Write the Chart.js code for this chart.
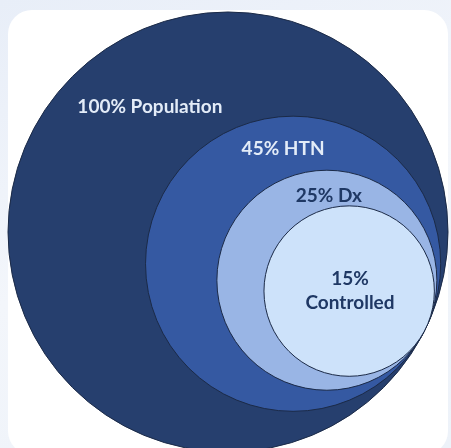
<!DOCTYPE html>
<html>
<head>
<meta charset="utf-8">
<script src="https://cdn.jsdelivr.net/npm/chart.js@4.4.1/dist/chart.umd.min.js"></script>
<style>
  html, body { margin: 0; padding: 0; }
  body {
    width: 451px; height: 448px; overflow: hidden; position: relative;
    background: linear-gradient(160deg, #e8eef8 0%, #f3f6fb 50%, #edf2f9 100%);
  }
  .card {
    position: absolute; left: 8px; top: 10px; width: 440px; height: 445px;
    background: #ffffff; border-radius: 24px;
  }
  #venn { position: absolute; left: 0; top: 0; }
</style>
</head>
<body>
<div class="card"></div>
<canvas id="venn" width="451" height="448"></canvas>
<script>
// groups and their share of the population (circle area is proportional)
var groups = ['Population', 'HTN', 'Dx', 'Controlled'];
var percents = [100, 45, 25, 15];
var fills = ['#263f6e', '#3559a2', '#99b5e5', '#cde2fa'];
var textColors = ['#e3ecf8', '#e3ecf8', '#1f3864', '#1f3864'];

// radius in axis units, outer circle = 100
function radiusOf(p) { return 10 * Math.sqrt(p); }

// circles nest toward one shared point on the lower right
var tangentAngle = -26 * Math.PI / 180;
var points = percents.map(function (p) {
    var d = 100 - radiusOf(p);
    return { x: d * Math.cos(tangentAngle), y: d * Math.sin(tangentAngle) };
});

var labelLines = groups.map(function (g, i) {
    return i === 3 ? [percents[i] + '%', g] : [percents[i] + '% ' + g];
});

// where each label sits, as a fraction of its circle's radius
var labelPlugin = {
    id: 'circleLabels',
    afterDatasetsDraw: function (chart, args, opts) {
        var c = chart.ctx;
        var meta = chart.getDatasetMeta(0);
        c.save();
        c.font = 'bold 19px Lato';
        c.textAlign = 'center';
        c.textBaseline = 'middle';
        meta.data.forEach(function (el, i) {
            var r = el.options.radius;
            var off = opts.offsets[i];
            var lines = labelLines[i];
            var x = el.x + off[0] * r;
            var y = el.y + off[1] * r - (lines.length - 1) * opts.lineHeight / 2;
            c.fillStyle = textColors[i];
            lines.forEach(function (t, k) {
                c.fillText(t, x, y + k * opts.lineHeight);
            });
        });
        c.restore();
    }
};

var ctx = document.getElementById('venn').getContext('2d');
var chart = new Chart(ctx, {
    type: 'scatter',
    data: {
        labels: groups,
        datasets: [{
            data: points,
            pointBackgroundColor: fills,
            pointBorderColor: '#1b2a47',
            pointBorderWidth: 1,
            // radius from the x scale so the circles stay in axis units
            pointRadius: function (context) {
                var xs = context.chart.scales.x;
                var i = context.dataIndex;
                if (!xs || i === undefined) return 0;
                return xs.getPixelForValue(radiusOf(percents[i])) - xs.getPixelForValue(0);
            }
        }]
    },
    options: {
        responsive: false,
        animation: false,
        events: [],
        layout: { padding: 0 },
        scales: {
            x: { type: 'linear', min: -103.64, max: 101.36, display: false },
            y: { type: 'linear', min: -98.18, max: 105.45, display: false }
        },
        plugins: {
            legend: { display: false },
            tooltip: { enabled: false },
            circleLabels: {
                lineHeight: 24,
                offsets: [[-0.355, -0.568], [-0.068, -0.779], [0.018, -0.764], [0.01, 0]]
            }
        }
    },
    plugins: [labelPlugin]
});
</script>
</body>
</html>
